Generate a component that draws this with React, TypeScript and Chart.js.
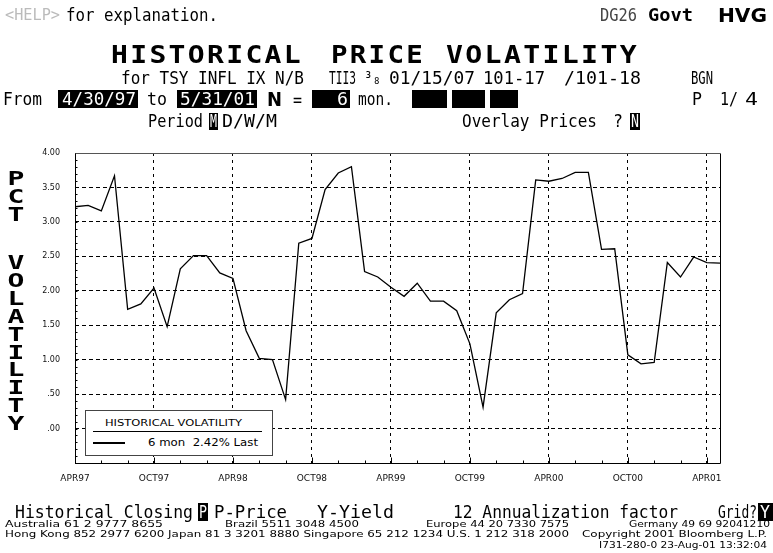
import React, { useEffect, useLayoutEffect, useRef } from "react";
import { Chart, registerables } from "chart.js";

Chart.register(...registerables);

// ---- data ----
const volatility = [
  3.22, 3.24, 3.16, 3.67, 1.73, 1.81, 2.04, 1.48, 2.32, 2.51,
  2.51, 2.26, 2.18, 1.42, 1.02, 1.0, 0.42, 2.69, 2.76, 3.47,
  3.71, 3.8, 2.28, 2.2, 2.05, 1.92, 2.11, 1.85, 1.85, 1.71,
  1.23, 0.31, 1.68, 1.87, 1.96, 3.61, 3.59, 3.63, 3.72, 3.72,
  2.6, 2.61, 1.07, 0.94, 0.96, 2.41, 2.2, 2.49, 2.41, 2.4,
];
const xTickMonths = [0, 6, 12, 18, 24, 30, 36, 42, 48];
const xTickLabels = ["APR97", "OCT97", "APR98", "OCT98", "APR99", "OCT99", "APR00", "OCT00", "APR01"];
const yTickValues = [-0.5, 0, 0.5, 1, 1.5, 2, 2.5, 3, 3.5, 4];
const yTickLabels = ["", ".00", ".50", "1.00", "1.50", "2.00", "2.50", "3.00", "3.50", "4.00"];

const MONO = '"DejaVu Sans Mono", monospace';
const SANS = '"DejaVu Sans", sans-serif';

type FitProps = {
  x: number; w: number; cy: number; text: string;
  size?: number; family?: string; weight?: string | number; color?: string; ls?: number;
};

function Fit({ x, w, cy, text, size = 17, family = MONO, weight = "normal", color = "#000", ls = 0 }: FitProps) {
  const ref = useRef<HTMLSpanElement>(null);
  useLayoutEffect(() => {
    const el = ref.current;
    if (!el) return;
    el.style.transform = "translateY(-50%)";
    const nat = el.getBoundingClientRect().width;
    if (nat > 0) el.style.transform = `translateY(-50%) scaleX(${w / nat})`;
  }, [w, text]);
  return (
    <span
      ref={ref}
      style={{
        position: "absolute", left: x, top: cy, whiteSpace: "pre", fontFamily: family,
        fontSize: size, fontWeight: weight as any, color, lineHeight: 1, letterSpacing: ls,
        transformOrigin: "0 50%", transform: "translateY(-50%)",
      }}
    >
      {text}
    </span>
  );
}

function Box({ x, y, w, h }: { x: number; y: number; w: number; h: number }) {
  return <div style={{ position: "absolute", left: x, top: y, width: w, height: h, background: "#000" }} />;
}

const pctLetters = ["P", "C", "T"];
const volLetters = ["V", "O", "L", "A", "T", "I", "L", "I", "T", "Y"];

const framePlugin = {
  id: "frame",
  afterDraw(chart: any) {
    const { ctx, chartArea, scales } = chart;
    const { left, top, right, bottom } = chartArea;
    const L = Math.round(left) + 0.5, R = Math.round(right) + 0.5, B = Math.round(bottom) + 0.5, T = Math.round(top) + 0.5;
    ctx.save();
    ctx.setLineDash([]);
    ctx.lineWidth = 1;
    ctx.strokeStyle = "#000";
    ctx.beginPath();
    ctx.moveTo(L, T); ctx.lineTo(L, B); ctx.lineTo(R, B); ctx.lineTo(R, T);
    ctx.stroke();
    ctx.strokeStyle = "#555";
    ctx.beginPath(); ctx.moveTo(L, T); ctx.lineTo(R, T); ctx.stroke();
    ctx.strokeStyle = "#000";
    ctx.beginPath();
    for (let m = 2; m < 49; m += 2) {
      const px = Math.round(scales.x.getPixelForValue(m)) + 0.5;
      const len = m % 6 === 0 ? 6 : 3;
      ctx.moveTo(px, B); ctx.lineTo(px, B - len);
    }
    for (let k = -4; k < 40; k++) {
      const py = Math.round(scales.y.getPixelForValue(k / 10)) + 0.5;
      ctx.moveTo(L, py); ctx.lineTo(L + 2, py);
    }
    ctx.stroke();
    ctx.restore();
  },
};

export default function App() {
  const canvasRef = useRef<HTMLCanvasElement>(null);

  useEffect(() => {
    if (!canvasRef.current) return;
    const chart = new Chart(canvasRef.current, {
      type: "line",
      data: {
        datasets: [
          {
            data: volatility.map((v, i) => ({ x: i, y: v })),
            borderColor: "#000",
            borderWidth: 1.3,
            pointRadius: 0,
            tension: 0,
            fill: false,
          },
        ],
      },
      options: {
        animation: false,
        responsive: false,
        maintainAspectRatio: false,
        devicePixelRatio: 1,
        layout: { padding: { left: 35, top: 153, right: 53, bottom: 65 } },
        plugins: { legend: { display: false }, tooltip: { enabled: false } },
        scales: {
          x: {
            type: "linear",
            min: 0,
            max: 49,
            afterFit: (a: any) => { a.height = 25; },
            afterBuildTicks: (a: any) => { a.ticks = xTickMonths.map((v) => ({ value: v })); },
            ticks: {
              autoSkip: false, maxRotation: 0, padding: 10, color: "#111",
              font: { family: SANS, size: 9 },
              callback: (v: any) => { const i = xTickMonths.indexOf(Number(v)); return i >= 0 ? xTickLabels[i] : ""; },
            },
            grid: { color: "#000", lineWidth: 1, drawTicks: false },
            border: { display: false, dash: [3, 4] },
          },
          y: {
            min: -0.5,
            max: 4,
            afterFit: (a: any) => { a.width = 40; },
            afterBuildTicks: (a: any) => { a.ticks = yTickValues.map((v) => ({ value: v })); },
            ticks: {
              padding: 15, color: "#111",
              font: { family: SANS, size: 8 },
              callback: (v: any) => { const i = yTickValues.indexOf(Number(v)); return i >= 0 ? yTickLabels[i] : ""; },
            },
            grid: { color: "#000", lineWidth: 1, drawTicks: false },
            border: { display: false, dash: [4, 3] },
          },
        },
      } as any,
      plugins: [framePlugin],
    });
    return () => chart.destroy();
  }, []);

  const letterStyle = (top: number): React.CSSProperties => ({
    position: "absolute", left: 5, width: 22, top, height: 20, lineHeight: "20px", textAlign: "center",
    fontFamily: MONO, fontWeight: "bold", fontSize: 20, transform: "scaleX(1.4)",
  });

  return (
    <div style={{ position: "absolute", left: 0, top: 0, width: 773, height: 553, background: "#fff", overflow: "hidden" }}>
      <canvas ref={canvasRef} width={773} height={553} style={{ position: "absolute", left: 0, top: 0, width: 773, height: 553 }} />

      {/* line 1 */}
      <Fit x={5} w={55} cy={15} text="<HELP>" color="#bbb" size={15} />
      <Fit x={66} w={152} cy={15} text="for explanation." />
      <Fit x={600} w={37} cy={15} text="DG26" color="#444" />
      <Fit x={648} w={45} cy={15} text="Govt" weight="bold" />
      <Fit x={718} w={49} cy={15} text="HVG" weight="bold" family={SANS} size={20} />

      {/* title */}
      <Fit x={111} w={192} cy={55} text="HISTORICAL" weight="bold" size={24} ls={2} />
      <Fit x={331} w={94} cy={55} text="PRICE" weight="bold" size={24} ls={2} />
      <Fit x={446} w={193} cy={55} text="VOLATILITY" weight="bold" size={24} ls={2} />

      {/* line 3 */}
      <Fit x={121} w={183} cy={78} text="for TSY INFL IX N/B" />
      <Fit x={329} w={27} cy={78} text="TII3" />
      <Fit x={364} w={17} cy={78} text="³₈" />
      <Fit x={389} w={86} cy={78} text="01/15/07" />
      <Fit x={483} w={62} cy={78} text="101-17" />
      <Fit x={564} w={77} cy={78} text="/101-18" />
      <Fit x={691} w={22} cy={78} text="BGN" />

      {/* line 4 */}
      <Fit x={3} w={39} cy={99} text="From" />
      <Box x={58} y={90} w={80} h={18} />
      <Fit x={62} w={74} cy={99} text="4/30/97" color="#fff" />
      <Fit x={147} w={20} cy={99} text="to" />
      <Box x={177} y={90} w={80} h={18} />
      <Fit x={180} w={75} cy={99} text="5/31/01" color="#fff" />
      <Fit x={267} w={15} cy={99} text="N" family={SANS} weight="bold" size={20} />
      <Fit x={293} w={9} cy={100} text="=" />
      <Box x={312} y={90} w={38} h={18} />
      <Fit x={337} w={11} cy={99} text="6" color="#fff" />
      <Fit x={358} w={35} cy={99} text="mon." />
      <Box x={412} y={90} w={35} h={18} />
      <Box x={452} y={90} w={33} h={18} />
      <Box x={490} y={90} w={28} h={18} />
      <Fit x={692} w={10} cy={99} text="P" />
      <Fit x={720} w={18} cy={99} text="1/" />
      <Fit x={745} w={13} cy={99} text="4" />

      {/* line 5 */}
      <Fit x={148} w={55} cy={121} text="Period" />
      <Box x={209} y={113} w={9} h={17} />
      <Fit x={210} w={7} cy={121} text="M" color="#fff" />
      <Fit x={222} w={55} cy={121} text="D/W/M" />
      <Fit x={462} w={135} cy={121} text="Overlay Prices" />
      <Fit x={613} w={10} cy={121} text="?" />
      <Box x={630} y={113} w={10} h={17} />
      <Fit x={631} w={8} cy={121} text="N" color="#fff" />

      {/* vertical axis title */}
      {pctLetters.map((c, i) => (
        <div key={"p" + i} style={letterStyle(178 + i * 18 - 10)}>{c}</div>
      ))}
      {volLetters.map((c, i) => (
        <div key={"v" + i} style={letterStyle(262 + i * 17.9 - 10)}>{c}</div>
      ))}

      {/* legend */}
      <div style={{ position: "absolute", left: 85, top: 410, width: 186, height: 44, border: "1px solid #444", background: "#fff" }} />
      <Fit x={105} w={137} cy={423} text="HISTORICAL VOLATILITY" family={SANS} size={9} />
      <div style={{ position: "absolute", left: 93, top: 431, width: 169, height: 1, background: "#000" }} />
      <div style={{ position: "absolute", left: 93, top: 442, width: 32, height: 2, background: "#000" }} />
      <Fit x={148} w={110} cy={443} text="6 mon  2.42% Last" family={SANS} size={10} />

      {/* bottom */}
      <Fit x={15} w={178} cy={512} text="Historical Closing" />
      <Box x={198} y={503} w={10} h={18} />
      <Fit x={199} w={8} cy={512} text="P" color="#fff" />
      <Fit x={214} w={73} cy={512} text="P-Price" />
      <Fit x={317} w={77} cy={512} text="Y-Yield" />
      <Fit x={453} w={225} cy={512} text="12 Annualization factor" />
      <Fit x={718} w={39} cy={512} text="Grid?" />
      <Box x={758} y={503} w={15} h={18} />
      <Fit x={760} w={10} cy={512} text="Y" color="#fff" />

      <Fit x={5} w={158} cy={524} text="Australia 61 2 9777 8655" family={SANS} size={9} />
      <Fit x={225} w={134} cy={524} text="Brazil 5511 3048 4500" family={SANS} size={9} />
      <Fit x={426} w={143} cy={524} text="Europe 44 20 7330 7575" family={SANS} size={9} />
      <Fit x={629} w={141} cy={524} text="Germany 49 69 92041210" family={SANS} size={9} />
      <Fit x={5} w={564} cy={534} text="Hong Kong 852 2977 6200 Japan 81 3 3201 8880 Singapore 65 212 1234 U.S. 1 212 318 2000" family={SANS} size={9} />
      <Fit x={582} w={185} cy={534} text="Copyright 2001 Bloomberg L.P." family={SANS} size={9} />
      <Fit x={599} w={168} cy={545} text="I731-280-0 23-Aug-01 13:32:04" family={SANS} size={9} />
    </div>
  );
}
